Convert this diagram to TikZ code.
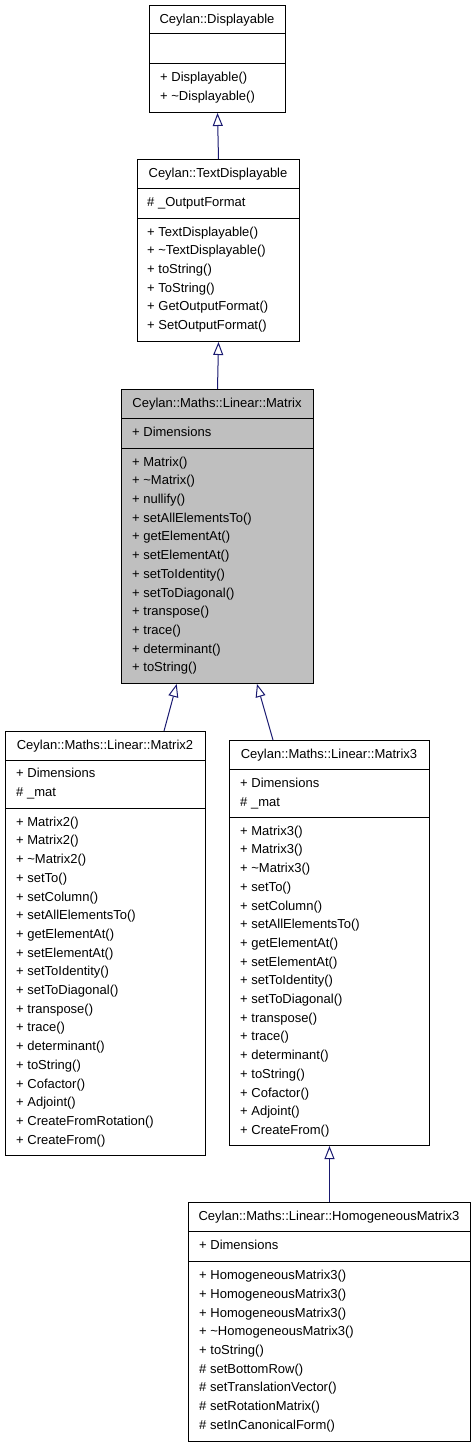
\documentclass[tikz,border=0pt]{standalone}
\usepackage{fontspec}
\setmainfont{Liberation Sans}
\usetikzlibrary{arrows.meta}
\definecolor{edgeblue}{HTML}{191970}
\definecolor{boxgray}{HTML}{BFBFBF}
\newcommand\tl{\textasciitilde}
\begin{document}
\begin{tikzpicture}[x=1pt,y=-1pt,
 classbox/.style={draw=black, line width=1pt, fill=white, rectangle, inner sep=0pt, anchor=north west},
 sepline/.style={line width=1pt},
 titletext/.style={anchor=base, inner sep=0pt, font=\fontsize{13}{18.7}\selectfont},
 members/.style={anchor=north west, inner sep=0pt, align=left, font=\fontsize{13}{18.7}\selectfont},
 inherit/.style={draw=edgeblue, line width=1pt, -{Triangle[open, length=13pt, width=10pt, fill=white]}}
]
\useasboundingbox (0,0) rectangle (476,1445);

% Displayable
\node[classbox, minimum width=136pt, minimum height=107pt] (disp) at (149,5) {};
\draw[sepline] ([yshift=-29pt]disp.north west) -- ([yshift=-29pt]disp.north east);
\draw[sepline] ([yshift=-59pt]disp.north west) -- ([yshift=-59pt]disp.north east);
\node[titletext] (dispt) at (217,23.5) {Ceylan::Displayable};
\node[members] (dispo) at (160,68.4) {\strut+ Displayable()\\+ \tl Displayable()};

% TextDisplayable
\node[classbox, minimum width=162pt, minimum height=182pt] (text) at (137,159) {};
\draw[sepline] ([yshift=-29pt]text.north west) -- ([yshift=-29pt]text.north east);
\draw[sepline] ([yshift=-59.5pt]text.north west) -- ([yshift=-59.5pt]text.north east);
\node[titletext] (textt) at (218,177.5) {Ceylan::TextDisplayable};
\node[members] (texta) at (147,193.4) {\strut\# \_OutputFormat};
\node[members] (texto) at (147,222.9) {\strut+ TextDisplayable()\\+ \tl TextDisplayable()\\+ toString()\\+ ToString()\\+ GetOutputFormat()\\+ SetOutputFormat()};

% Matrix
\node[classbox, fill=boxgray, minimum width=192pt, minimum height=294pt] (mat) at (121,389) {};
\draw[sepline] ([yshift=-29pt]mat.north west) -- ([yshift=-29pt]mat.north east);
\draw[sepline] ([yshift=-59pt]mat.north west) -- ([yshift=-59pt]mat.north east);
\node[titletext] (matt) at (217,407.5) {Ceylan::Maths::Linear::Matrix};
\node[members] (mata) at (132,423.4) {\strut+ Dimensions};
\node[members] (mato) at (132,452.9) {\strut+ Matrix()\\+ \tl Matrix()\\+ nullify()\\+ setAllElementsTo()\\+ getElementAt()\\+ setElementAt()\\+ setToIdentity()\\+ setToDiagonal()\\+ transpose()\\+ trace()\\+ determinant()\\+ toString()};

% Matrix2
\node[classbox, minimum width=200pt, minimum height=424pt] (m2) at (5,731) {};
\draw[sepline] ([yshift=-29pt]m2.north west) -- ([yshift=-29pt]m2.north east);
\draw[sepline] ([yshift=-77pt]m2.north west) -- ([yshift=-77pt]m2.north east);
\node[titletext] (m2t) at (105,749.5) {Ceylan::Maths::Linear::Matrix2};
\node[members] (m2a) at (16,764.4) {\strut+ Dimensions\\\# \_mat};
\node[members] (m2o) at (16,812.9) {\strut+ Matrix2()\\+ Matrix2()\\+ \tl Matrix2()\\+ setTo()\\+ setColumn()\\+ setAllElementsTo()\\+ getElementAt()\\+ setElementAt()\\+ setToIdentity()\\+ setToDiagonal()\\+ transpose()\\+ trace()\\+ determinant()\\+ toString()\\+ Cofactor()\\+ Adjoint()\\+ CreateFromRotation()\\+ CreateFrom()};

% Matrix3
\node[classbox, minimum width=200pt, minimum height=405pt] (m3) at (229,740) {};
\draw[sepline] ([yshift=-29pt]m3.north west) -- ([yshift=-29pt]m3.north east);
\draw[sepline] ([yshift=-77pt]m3.north west) -- ([yshift=-77pt]m3.north east);
\node[titletext] (m3t) at (329,758.5) {Ceylan::Maths::Linear::Matrix3};
\node[members] (m3a) at (240,774.4) {\strut+ Dimensions\\\# \_mat};
\node[members] (m3o) at (240,821.9) {\strut+ Matrix3()\\+ Matrix3()\\+ \tl Matrix3()\\+ setTo()\\+ setColumn()\\+ setAllElementsTo()\\+ getElementAt()\\+ setElementAt()\\+ setToIdentity()\\+ setToDiagonal()\\+ transpose()\\+ trace()\\+ determinant()\\+ toString()\\+ Cofactor()\\+ Adjoint()\\+ CreateFrom()};

% HomogeneousMatrix3
\node[classbox, minimum width=282pt, minimum height=239pt] (hm) at (188,1202) {};
\draw[sepline] ([yshift=-29pt]hm.north west) -- ([yshift=-29pt]hm.north east);
\draw[sepline] ([yshift=-59pt]hm.north west) -- ([yshift=-59pt]hm.north east);
\node[titletext] (hmt) at (329,1220.5) {Ceylan::Maths::Linear::HomogeneousMatrix3};
\node[members] (hma) at (199,1236.4) {\strut+ Dimensions};
\node[members] (hmo) at (199,1266.4) {\strut+ HomogeneousMatrix3()\\+ HomogeneousMatrix3()\\+ HomogeneousMatrix3()\\+ \tl HomogeneousMatrix3()\\+ toString()\\\# setBottomRow()\\\# setTranslationVector()\\\# setRotationMatrix()\\\# setInCanonicalForm()};

% inheritance connectors
\draw[inherit] (text.north) -- (disp.south);
\draw[inherit] (mat.north) -- (text.south);
\draw[inherit] ([xshift=159pt]m2.north west) -- ([xshift=55.7pt]mat.south west);
\draw[inherit] ([xshift=44pt]m3.north west) -- ([xshift=136pt]mat.south west);
\draw[inherit] (hm.north) -- (m3.south);
\end{tikzpicture}
\end{document}
